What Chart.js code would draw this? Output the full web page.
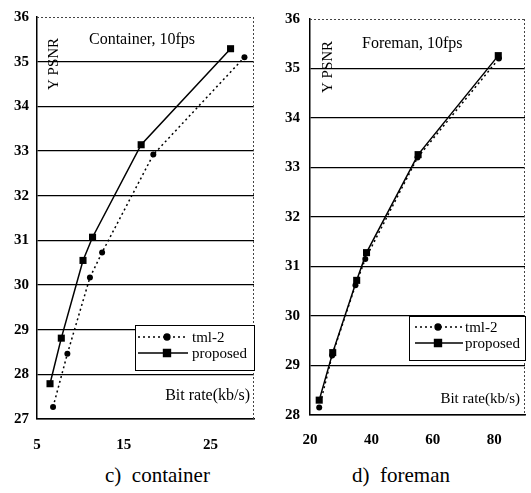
<!DOCTYPE html>
<html>
<head>
<meta charset="utf-8">
<script src="https://cdn.jsdelivr.net/npm/chart.js@4"></script>
<style>
  body { margin: 0; background: #fff; width: 531px; height: 493px; position: relative; overflow: hidden; font-family: "Liberation Serif", serif; }
  canvas { position: absolute; top: 0; }
  .cap { position: absolute; font-size: 21px; white-space: pre; color: #000; }
</style>
</head>
<body>
<canvas id="cont" width="265" height="460" style="left:0"></canvas>
<canvas id="fore" width="266" height="460" style="left:265px"></canvas>
<div class="cap" style="left:105px;top:463px">c)  container</div>
<div class="cap" style="left:352px;top:463px">d)  foreman</div>
<script>
// Container, 10fps
const contRateTml = [6.85, 8.5, 11.1, 12.5, 18.4, 28.9];
const contPsnrTml = [27.27, 28.46, 30.17, 30.73, 32.92, 35.1];
const contRateProp = [6.5, 7.8, 10.3, 11.4, 17.0, 27.3];
const contPsnrProp = [27.79, 28.81, 30.55, 31.07, 33.14, 35.29];
const contXTicks = [5, 15, 25];
const contYTicks = [27, 28, 29, 30, 31, 32, 33, 34, 35, 36];

// Foreman, 10fps
const foreRateTml = [23, 27.2, 34.8, 38, 55, 81.5];
const forePsnrTml = [28.15, 29.2, 30.62, 31.15, 33.2, 35.2];
const foreRateProp = [23, 27.4, 35.2, 38.4, 55.2, 81.3];
const forePsnrProp = [28.3, 29.26, 30.72, 31.28, 33.26, 35.26];
const foreXTicks = [20, 40, 60, 80];
const foreYTicks = [28, 29, 30, 31, 32, 33, 34, 35, 36];

const seriesNames = ['tml-2', 'proposed'];

const toPoints = (xs, ys) => xs.map((x, i) => ({ x: x, y: ys[i] }));

// texts, frame and legend drawn on top of the plot
const decor = {
  id: 'decor',
  afterDraw(chart, args, o) {
    const ctx = chart.ctx, a = chart.chartArea;
    ctx.save();
    ctx.strokeStyle = '#444';
    ctx.lineWidth = 1;
    ctx.setLineDash([2, 2]);
    ctx.beginPath();
    ctx.moveTo(a.left, a.top + 0.5); ctx.lineTo(a.right, a.top + 0.5);
    ctx.moveTo(a.right - 0.5, a.top); ctx.lineTo(a.right - 0.5, a.bottom);
    ctx.stroke();
    ctx.setLineDash([]);

    ctx.fillStyle = '#000';
    ctx.textBaseline = 'alphabetic';
    ctx.font = '16px "Liberation Serif"';
    ctx.textAlign = 'left';
    ctx.fillText(o.title, o.titleX, o.titleY);

    ctx.font = o.xFont;
    ctx.textAlign = 'right';
    ctx.fillText('Bit rate(kb/s)', o.xLabelX, o.xLabelY);

    ctx.save();
    ctx.translate(o.yLabelX, o.yLabelY);
    ctx.rotate(-Math.PI / 2);
    ctx.textAlign = 'left';
    ctx.font = '15px "Liberation Serif"';
    ctx.fillText('Y PSNR', 0, 0);
    ctx.restore();

    // legend box
    const L = o.legend;
    ctx.fillStyle = '#fff';
    ctx.fillRect(L.x, L.y, L.w, L.h);
    ctx.strokeStyle = '#000';
    ctx.lineWidth = 1;
    ctx.strokeRect(L.x + 0.5, L.y + 0.5, L.w, L.h);
    chart.data.datasets.forEach((ds, i) => {
      const y = L.rows[i];
      ctx.strokeStyle = '#000';
      ctx.lineWidth = 1.3;
      ctx.setLineDash(ds.borderDash || []);
      ctx.beginPath();
      ctx.moveTo(L.x1, y); ctx.lineTo(L.x2, y);
      ctx.stroke();
      ctx.setLineDash([]);
      Chart.helpers.drawPoint(ctx, { pointStyle: ds.pointStyle, radius: ds.pointRadius, borderWidth: 1 }, L.mx, y);
      ctx.fillStyle = '#000';
      ctx.fill();
      ctx.font = '15px "Liberation Serif"';
      ctx.textAlign = 'left';
      ctx.fillText(ds.label, L.tx, y + 5);
    });
    ctx.restore();
  }
};

function makeChart(id, d) {
  const tickFont = { family: 'Liberation Serif', size: 15, weight: 'bold' };
  return new Chart(document.getElementById(id), {
    type: 'scatter',
    data: {
      datasets: [{
        label: seriesNames[0],
        data: toPoints(d.rateTml, d.psnrTml),
        showLine: true,
        borderColor: '#000',
        backgroundColor: '#000',
        borderWidth: 1.5,
        borderDash: [2, 3],
        pointStyle: 'circle',
        pointRadius: 3,
        pointBorderWidth: 0
      }, {
        label: seriesNames[1],
        data: toPoints(d.rateProp, d.psnrProp),
        showLine: true,
        borderColor: '#000',
        backgroundColor: '#000',
        borderWidth: 1.5,
        pointStyle: 'rect',
        pointRadius: 5,
        pointBorderWidth: 0
      }]
    },
    options: {
      responsive: false,
      animation: false,
      devicePixelRatio: 1,
      layout: { padding: { top: 16, right: d.padRight, left: 0, bottom: 0 } },
      scales: {
        x: {
          type: 'linear',
          min: d.xMin, max: d.xMax,
          afterFit: s => { s.height = d.xHeight; },
          afterBuildTicks: s => { s.ticks = d.xTicks.map(v => ({ value: v })); },
          grid: { display: false, drawTicks: false },
          border: { display: true, color: '#000', width: 1.5 },
          ticks: { font: tickFont, color: '#000', padding: d.xPad, maxRotation: 0 }
        },
        y: {
          min: d.yMin, max: d.yMax,
          afterFit: s => { s.width = d.yWidth; },
          afterBuildTicks: s => { s.ticks = d.yTicks.map(v => ({ value: v })); },
          grid: {
            drawTicks: false,
            lineWidth: 1.2,
            color: c => (c.tick && c.tick.value === d.yMax) ? 'rgba(0,0,0,0)' : '#000'
          },
          border: { display: true, color: '#000', width: 1.5 },
          ticks: { font: tickFont, color: '#000', padding: d.yPad }
        }
      },
      plugins: {
        legend: { display: false },
        tooltip: { enabled: false },
        decor: d.decor
      }
    },
    plugins: [decor]
  });
}

makeChart('cont', {
  rateTml: contRateTml, psnrTml: contPsnrTml, rateProp: contRateProp, psnrProp: contPsnrProp,
  xTicks: contXTicks, yTicks: contYTicks,
  xMin: 5, xMax: 30, yMin: 27, yMax: 36,
  padRight: 11, xHeight: 41, yWidth: 37, xPad: 17, yPad: 8,
  decor: {
    title: 'Container, 10fps', titleX: 89, titleY: 44,
    xFont: '16px "Liberation Serif"', xLabelX: 250, xLabelY: 400,
    yLabelX: 58, yLabelY: 90,
    legend: { x: 135, y: 325, w: 119, h: 45, rows: [337, 353], x1: 138, x2: 188, mx: 167, tx: 192 }
  }
});

makeChart('fore', {
  rateTml: foreRateTml, psnrTml: forePsnrTml, rateProp: foreRateProp, psnrProp: forePsnrProp,
  xTicks: foreXTicks, yTicks: foreYTicks,
  xMin: 20, xMax: 90, yMin: 28, yMax: 36,
  padRight: 6, xHeight: 45, yWidth: 45, xPad: 16, yPad: 10,
  decor: {
    title: 'Foreman, 10fps', titleX: 97, titleY: 48,
    xFont: '15px "Liberation Serif"', xLabelX: 255, xLabelY: 403,
    yLabelX: 67, yLabelY: 93,
    legend: { x: 144, y: 316, w: 116, h: 44, rows: [327, 343], x1: 150, x2: 198, mx: 173, tx: 200 }
  }
});
</script>
</body>
</html>
